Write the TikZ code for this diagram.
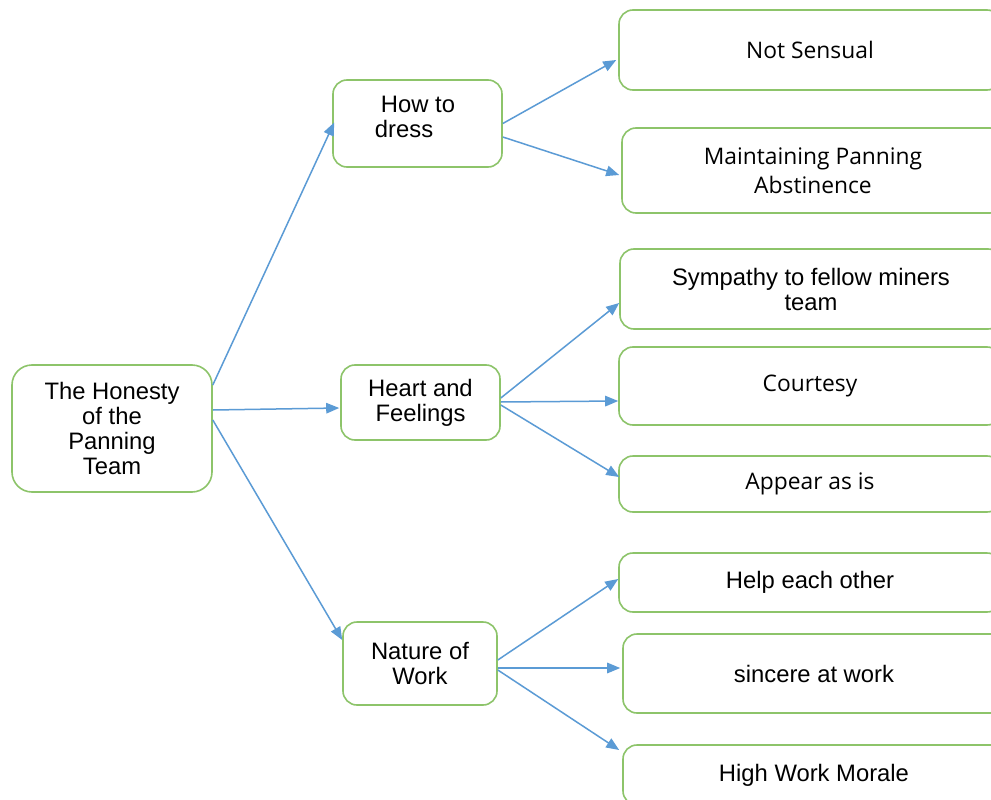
\documentclass[tikz,border=0pt]{standalone}
\usepackage{fontspec}
\setmainfont{Liberation Sans}
\newfontfamily\altfont{Open Sans}
\usetikzlibrary{arrows.meta,calc}
\definecolor{boxgreen}{HTML}{8DC46A}
\definecolor{arrowblue}{HTML}{5B9BD5}
\tikzset{
  box/.style={draw=boxgreen, line width=1.6pt, rounded corners=14pt, fill=white,
    inner sep=0pt, align=center, font=\fontsize{23.8}{25}\selectfont},
  altbox/.style={box, font=\altfont\fontsize{22.8}{29}\selectfont},
  lbl/.style={align=center, inner sep=0pt, font=\fontsize{23.8}{25}\selectfont},
  link/.style={draw=arrowblue, line width=1.5pt, -{Triangle[length=13pt,width=10.5pt]}},
}
\begin{document}
\begin{tikzpicture}[x=1pt,y=-1pt]
\clip (0,0) rectangle (991,800);
\fill[white] (0,0) rectangle (991,800);

% root
\node[box, rounded corners=20pt, minimum width=200pt, minimum height=127pt] (root) at (112,428.5)
  {The Honesty\\of the\\Panning\\Team};

% middle level
\node[box, minimum width=169pt, minimum height=87pt] (how) at (417.5,123.5) {};
\node[lbl, align=left] (howtxt) at (415,117) {\hspace{6pt}How to\\dress};
\node[box, minimum width=159pt, minimum height=75pt] (heart) at (420.5,402.5) {Heart and\\Feelings};
\node[box, minimum width=154pt, minimum height=83pt] (nature) at (420,663.5) {Nature of\\Work};

% right column
\node[altbox, minimum width=382pt, minimum height=80pt] (nots) at (810,50) {Not Sensual};
\node[altbox, minimum width=382pt, minimum height=85pt] (maint) at (813,170.5) {Maintaining Panning\\Abstinence};
\node[box, minimum width=382pt, minimum height=80pt] (symp) at (811,289) {Sympathy to fellow miners\\team};
\node[altbox, minimum width=382pt, minimum height=78pt] (court) at (810,386) {Courtesy};
\node[altbox, minimum width=382pt, minimum height=56pt] (appear) at (810,484) {Appear as is};
\node[box, minimum width=382pt, minimum height=59pt] (help) at (810,582.5) {Help each other};
\node[box, minimum width=382pt, minimum height=79pt] (sincere) at (814,673.5) {sincere at work};
\node[box, minimum width=382pt, minimum height=60pt] (high) at (814,775) {High Work Morale};

% connectors from the root
\draw[link] ($(root.east)+(0,-43.5)$) -- ($(how.west)+(2,-1)$);
\draw[link] ($(root.east)+(0,-18.5)$) -- ($(heart.west)+(-1,5.5)$);
\draw[link] ($(root.east)+(0,-8.5)$) -- ($(nature.west)+(0,-23.5)$);

% connectors from "How to dress"
\draw[link] (how.east) -- ($(nots.west)+(-2,10)$);
\draw[link] ($(how.east)+(0,13.5)$) -- ($(maint.west)+(-2,4.5)$);

% connectors from "Heart and Feelings"
\draw[link] ($(heart.east)+(0,-4.5)$) -- ($(symp.west)+(0,14)$);
\draw[link] ($(heart.east)+(0,-0.5)$) -- ($(court.west)+(0,15)$);
\draw[link] ($(heart.east)+(0,2.5)$) -- ($(appear.west)+(1,-7)$);

% connectors from "Nature of Work"
\draw[link] ($(nature.east)+(0,-3.5)$) -- ($(help.west)+(0,-3.5)$);
\draw[link] ($(nature.east)+(0,4.5)$) -- ($(sincere.west)+(-2,-5.5)$);
\draw[link] ($(nature.east)+(0,6.5)$) -- ($(high.west)+(-3,-25)$);
\end{tikzpicture}
\end{document}
